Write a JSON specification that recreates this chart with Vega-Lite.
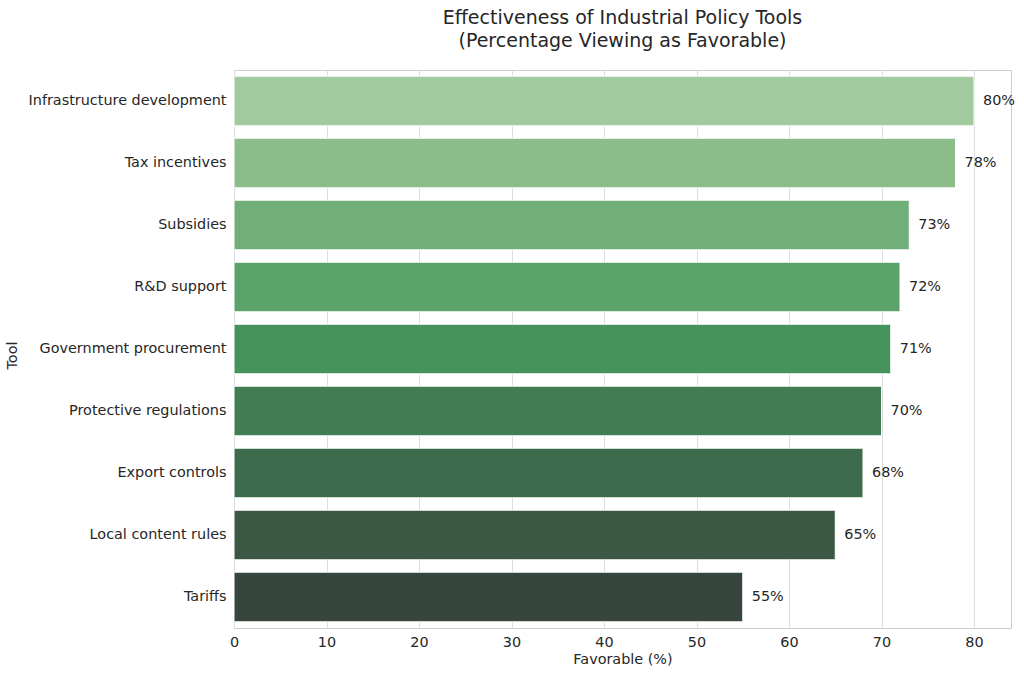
{
  "$schema": "https://vega.github.io/schema/vega-lite/v6.json",
  "autosize": {"type": "none"},
  "width": 777,
  "height": 558,
  "padding": {"left": 234, "top": 70, "right": 13, "bottom": 49},
  "background": "white",
  "title": {
    "text": ["Effectiveness of Industrial Policy Tools", "(Percentage Viewing as Favorable)"],
    "font": "DejaVu Sans",
    "fontSize": 19,
    "fontWeight": "normal",
    "color": "#262626",
    "anchor": "middle",
    "lineHeight": 23,
    "offset": 19
  },
  "config": {
    "font": "DejaVu Sans",
    "view": {"stroke": "#cccccc", "strokeWidth": 1},
    "axis": {
      "labelFont": "DejaVu Sans",
      "titleFont": "DejaVu Sans",
      "labelFontSize": 14.4,
      "titleFontSize": 14.4,
      "labelColor": "#262626",
      "titleColor": "#262626",
      "titleFontWeight": "normal",
      "labelLimit": 400,
      "domain": false,
      "ticks": false
    }
  },
  "data": {
    "values": [
      {"tool": "Infrastructure development", "favorable": 80, "label": "80%", "color": "#a1cb9e"},
      {"tool": "Tax incentives", "favorable": 78, "label": "78%", "color": "#8bbd8a"},
      {"tool": "Subsidies", "favorable": 73, "label": "73%", "color": "#70ae7a"},
      {"tool": "R&D support", "favorable": 72, "label": "72%", "color": "#5ba26b"},
      {"tool": "Government procurement", "favorable": 71, "label": "71%", "color": "#45935a"},
      {"tool": "Protective regulations", "favorable": 70, "label": "70%", "color": "#417d52"},
      {"tool": "Export controls", "favorable": 68, "label": "68%", "color": "#3e6b4c"},
      {"tool": "Local content rules", "favorable": 65, "label": "65%", "color": "#3b5845"},
      {"tool": "Tariffs", "favorable": 55, "label": "55%", "color": "#37463c"}
    ]
  },
  "encoding": {
    "y": {
      "field": "tool",
      "type": "nominal",
      "sort": null,
      "title": "Tool",
      "scale": {"paddingInner": 0.2, "paddingOuter": 0.1},
      "axis": {"grid": false, "labelPadding": 8, "titleX": -215, "titleY": 285, "titleAngle": -90}
    },
    "x": {
      "field": "favorable",
      "type": "quantitative",
      "title": "Favorable (%)",
      "scale": {"domain": [0, 84], "nice": false},
      "axis": {
        "values": [0, 10, 20, 30, 40, 50, 60, 70, 80],
        "grid": true,
        "gridColor": "#dddddd",
        "labelFlush": false,
        "labelPadding": 7,
        "titlePadding": 4
      }
    }
  },
  "layer": [
    {
      "mark": {"type": "bar", "stroke": "white", "strokeWidth": 1},
      "encoding": {
        "color": {"field": "color", "type": "nominal", "scale": null, "legend": null}
      }
    },
    {
      "mark": {"type": "text", "align": "left", "baseline": "middle", "dx": 9, "fontSize": 14.4, "color": "#262626", "font": "DejaVu Sans"},
      "encoding": {
        "text": {"field": "label", "type": "nominal"}
      }
    }
  ]
}
